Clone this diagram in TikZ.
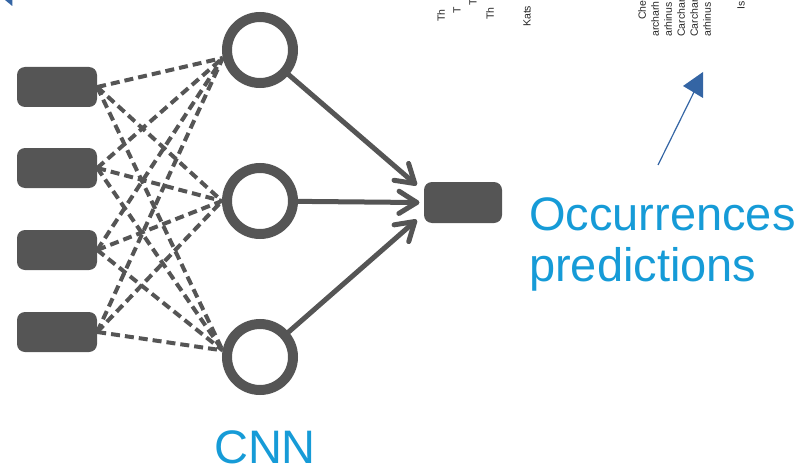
\documentclass[tikz,border=0pt]{standalone}
\usepackage{fontspec}
\setmainfont{Liberation Sans}
\usetikzlibrary{calc}
\definecolor{nngray}{RGB}{85,85,85}
\definecolor{nnblue}{RGB}{22,155,215}
\definecolor{arrblue}{RGB}{52,101,164}
\begin{document}
\begin{tikzpicture}[x=1pt,y=-1pt,
 inbox/.style={fill=nngray, draw=none, rounded corners=8pt, minimum width=80pt, minimum height=40pt, inner sep=0pt},
 neuron/.style={circle, draw=nngray, line width=10pt, minimum size=66pt, inner sep=0pt},
 dashlink/.style={draw=nngray, line width=4pt, dash pattern=on 9pt off 5pt},
 solidlink/.style={draw=nngray, line width=5pt, line cap=round, line join=round},
 bigtext/.style={text=nnblue, font=\fontsize{47}{52}\selectfont, inner sep=0pt},
 tinytext/.style={font=\fontsize{10.5}{12}\selectfont, rotate=90, anchor=west, inner sep=0pt, text=black!85}]
\useasboundingbox (0,0) rectangle (802,468);
% inputs
\node[inbox] (i1) at (57,87) {};
\node[inbox] (i2) at (57,168) {};
\node[inbox] (i3) at (57,250) {};
\node[inbox] (i4) at (57,332) {};
% neurons
\node[neuron] (c1) at (260,50) {};
\node[neuron] (c2) at (260,201) {};
\node[neuron] (c3) at (260,357) {};
% output
\node[inbox, minimum width=78pt, minimum height=41pt] (out) at (463,202.5) {};
% dashed links
\foreach \i in {i1,i2,i3,i4}{
  \draw[dashlink] (\i.east) -- (c1.192);
  \draw[dashlink] (\i.east) -- (c2.west);
  \draw[dashlink] (\i.east) -- (c3.170);
}
% solid arrows with open chevron heads
\coordinate (t1) at ($(out.west)+(-9,-19)$);
\coordinate (t2) at ($(out.west)+(-7,0)$);
\coordinate (t3) at ($(out.west)+(-9,19)$);
\foreach \c/\t in {c1/t1,c2/t2,c3/t3}{
  \draw[solidlink] (\c) -- (\t);
  \draw[solidlink] ($(\t)!21pt!32:(\c)$) -- (\t) -- ($(\t)!21pt!-32:(\c)$);
}
% labels
\node[bigtext, anchor=base] (cnn) at (265,463) {CNN};
\node[bigtext, anchor=base west] (occ) at (529,230) {Occurrences};
\node[bigtext, anchor=base west] (pred) at (529,281) {predictions};
% blue arrow
\coordinate (a0) at (658,165);
\coordinate (a1) at (695,90);
\draw[arrblue, line width=1.2pt] (a0) -- (a1);
\fill[arrblue] (703,72) -- (683,86) -- (703,98) -- cycle;
\fill[arrblue] (5,0) -- (12.3,0) -- (12.3,6) -- cycle;
% clipped rotated labels at top
\node[tinytext] (s1) at (441,22) {Th};
\node[tinytext] (s2) at (457,14) {T};
\node[tinytext] (s3) at (473,6) {T};
\node[tinytext] (s4) at (490,20) {Th};
\node[tinytext] (s5) at (527,27) {Kats};
\node[tinytext] (r1) at (642,20) {Che};
\node[tinytext] (r2) at (655,37) {archarh};
\node[tinytext] (r3) at (668,37) {arhinus};
\node[tinytext] (r4) at (681,37) {Carchar};
\node[tinytext] (r5) at (694,37) {Carchar};
\node[tinytext] (r6) at (707,37) {arhinus};
\node[tinytext] (r7) at (741,10) {Is};
\end{tikzpicture}
\end{document}
